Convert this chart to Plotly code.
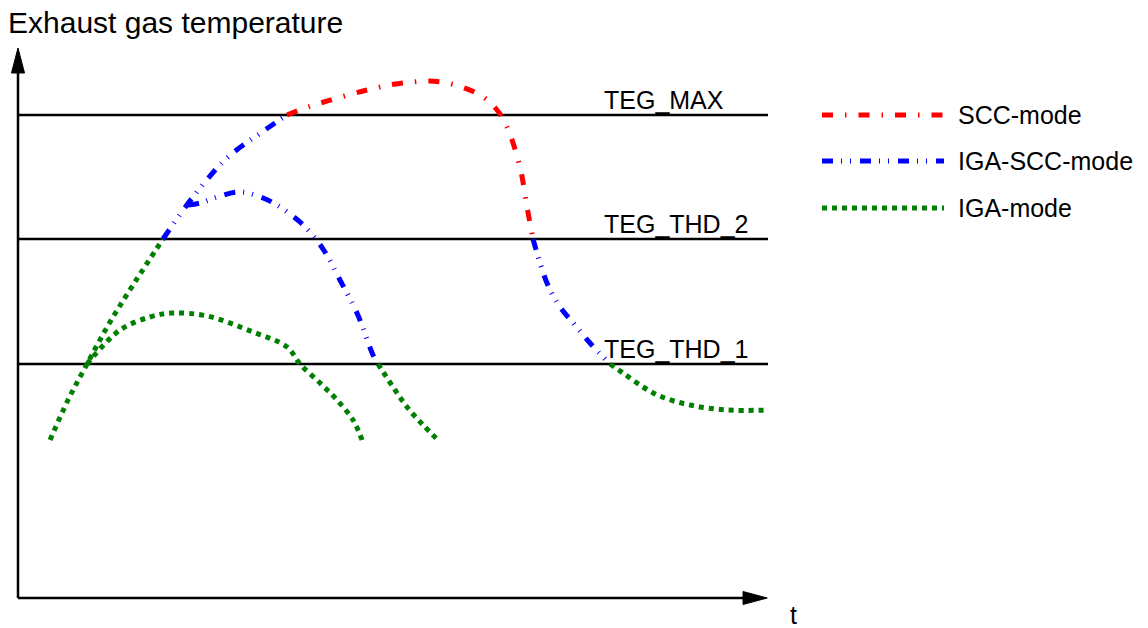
import plotly.graph_objects as go

# ---------------- data (relative units: t = time, T = exhaust gas temperature) ----------------
threshold_labels = ["TEG_MAX", "TEG_THD_2", "TEG_THD_1"]
threshold_levels = [96.6, 71.8, 46.8]

mode_names = ["SCC-mode", "IGA-SCC-mode", "IGA-mode"]

# main trajectory: IGA -> IGA-SCC -> SCC -> IGA-SCC -> IGA
a1_t = [4.27, 6.67, 9.2, 12.27, 15.6, 19.33]
a1_T = [31.6, 39.6, 46.8, 55.2, 63.2, 71.8]
a2_t = [19.33, 23.33, 27.87, 32.93, 35.87]
a2_T = [71.8, 80.2, 88.0, 93.6, 96.6]
a3_t = [35.87, 38.67, 46.53, 51.33, 56.53, 61.6, 63.87, 65.2, 66.93, 67.87, 68.67]
a3_T = [96.6, 98.2, 101.6, 103.0, 103.2, 100.6, 97.6, 94.2, 86.2, 78.2, 71.8]
a4_t = [68.67, 70.53, 72.27, 74.27, 76.27, 78.93]
a4_T = [71.8, 63.0, 58.2, 54.6, 51.0, 46.8]
a5_t = [78.93, 80.67, 83.33, 85.87, 89.6, 94.53, 100.0]
a5_T = [46.8, 45.0, 42.2, 40.2, 38.6, 37.6, 37.6]

# branch B: stays in IGA-mode
b_t = [9.2, 13.6, 17.6, 20.53, 25.2, 31.33, 35.87, 37.6, 40.27, 42.53, 44.67, 45.87]
b_T = [46.8, 53.6, 56.2, 57.0, 56.4, 53.2, 50.2, 46.8, 43.0, 39.6, 35.6, 31.6]

# branch C: IGA-SCC-mode then IGA-mode
c_t = [22.67, 24.27, 26.53, 29.6, 32.67, 34.93, 37.6, 39.6, 40.93, 42.93, 45.2, 47.33, 48.0]
c_T = [78.6, 79.0, 80.2, 81.2, 80.0, 78.2, 75.2, 72.0, 69.2, 63.6, 57.0, 48.6, 46.8]
d_t = [48.0, 50.0, 51.87, 54.0, 56.27]
d_T = [46.8, 42.2, 38.2, 34.6, 31.2]

segments = [
    ("IGA-mode", a1_t, a1_T),
    ("IGA-SCC-mode", a2_t, a2_T),
    ("SCC-mode", a3_t, a3_T),
    ("IGA-SCC-mode", a4_t, a4_T),
    ("IGA-mode", a5_t, a5_T),
    ("IGA-mode", b_t, b_T),
    ("IGA-SCC-mode", c_t, c_T),
    ("IGA-mode", d_t, d_T),
]

# ---------------- styles ----------------
FONT = "Liberation Sans, Arial, sans-serif"
styles = {
    "SCC-mode": dict(color="#ff0000", dash="11px,12px,1.5px,12px", width=5),
    "IGA-SCC-mode": dict(color="#0000ff", dash="11px,8px,1px,8px,1px,9px", width=5),
    "IGA-mode": dict(color="#008000", dash="5px,5px", width=5),
}

W, H = 1148, 628
ML, MR, MT, MB = 8, 372, 45, 20
PXT, PXY = 7.5, 5.0           # pixels per unit
X0PX, Y0PX = 18, 598          # pixel position of the origin
pw, ph = W - ML - MR, H - MT - MB
x_range = [-(X0PX - ML) / PXT, (pw - (X0PX - ML)) / PXT]
y_range = [-(MT + ph - Y0PX) / PXY, (Y0PX - MT) / PXY]


def px_x(px):
    return (px - ML) / pw


def px_y(py):
    return (MT + ph - py) / ph


fig = go.Figure()

# threshold lines
for lab, lev in zip(threshold_labels, threshold_levels):
    fig.add_trace(go.Scatter(x=[0, 100], y=[lev, lev], mode="lines",
                             line=dict(color="black", width=2.5),
                             hoverinfo="skip", showlegend=False))

for mode, tt, TT in segments:
    st = styles[mode]
    fig.add_trace(go.Scatter(x=tt, y=TT, mode="lines", name=mode,
                             line=dict(color=st["color"], width=st["width"],
                                       dash=st["dash"], shape="spline", smoothing=1),
                             hoverinfo="skip", showlegend=False))

shapes = []
# axes with arrows
shapes.append(dict(type="line", xref="x", yref="y", x0=0, y0=0, x1=97, y1=0,
                   line=dict(color="black", width=2.5)))
shapes.append(dict(type="line", xref="x", yref="y", x0=0, y0=0, x1=0, y1=105.5,
                   line=dict(color="black", width=2.5)))
shapes.append(dict(type="path", xref="x", yref="y",
                   path="M 96.67,-1.3 L 99.9,0 L 96.67,1.3 Z",
                   fillcolor="black", line=dict(color="black", width=1)))
shapes.append(dict(type="path", xref="x", yref="y",
                   path="M -0.87,105 L 0,110 L 0.87,105 Z",
                   fillcolor="black", line=dict(color="black", width=1)))

annotations = []
# threshold labels
for lab, lev in zip(threshold_labels, threshold_levels):
    annotations.append(dict(x=78.1, y=lev, xref="x", yref="y", text=lab,
                            showarrow=False, xanchor="left", yanchor="middle",
                            yshift=15, xshift=-2,
                            font=dict(family=FONT, size=25, color="black")))

# manual legend
legend_y = [115, 161, 208]
for name, ly in zip(mode_names, legend_y):
    st = styles[name]
    shapes.append(dict(type="line", xref="paper", yref="paper",
                       x0=px_x(822), x1=px_x(944), y0=px_y(ly), y1=px_y(ly),
                       line=dict(color=st["color"], width=st["width"], dash=st["dash"])))
    annotations.append(dict(x=px_x(958), y=px_y(ly), xref="paper", yref="paper",
                            text=name, showarrow=False, xanchor="left", yanchor="middle",
                            xshift=-2, font=dict(family=FONT, size=25, color="black")))

# title / axis labels
annotations.append(dict(x=px_x(8), y=px_y(23), xref="paper", yref="paper",
                        text="Exhaust gas temperature", showarrow=False,
                        xanchor="left", yanchor="middle", xshift=-2,
                        font=dict(family=FONT, size=30, color="black")))
annotations.append(dict(x=px_x(793), y=px_y(615), xref="paper", yref="paper",
                        text="t", showarrow=False, xanchor="center", yanchor="middle",
                        font=dict(family=FONT, size=25, color="black")))

fig.update_layout(
    width=W, height=H,
    margin=dict(l=ML, r=MR, t=MT, b=MB),
    paper_bgcolor="white", plot_bgcolor="white",
    xaxis=dict(range=x_range, visible=False, fixedrange=True),
    yaxis=dict(range=y_range, visible=False, fixedrange=True),
    shapes=shapes, annotations=annotations, showlegend=False,
)

# remove the browser's default page margin so the figure fills the window exactly
fig.write_html("out.html", config={"displayModeBar": False},
               post_script="document.body.style.margin='0';document.body.style.overflow='hidden';")
